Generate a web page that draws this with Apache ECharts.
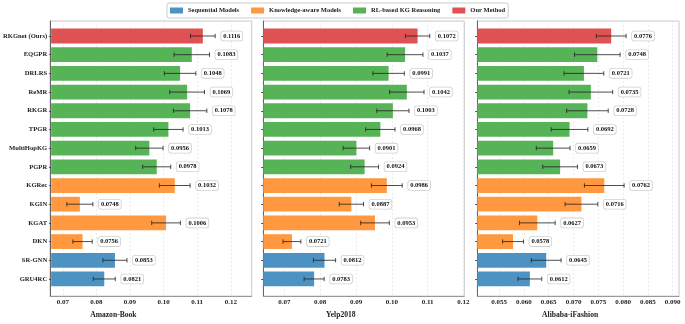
<!DOCTYPE html>
<html>
<head>
<meta charset="utf-8">
<script src="https://cdn.jsdelivr.net/npm/echarts@6/dist/echarts.min.js"></script>
<style>
  html, body { margin: 0; padding: 0; background: #fff; }
  #main { width: 685px; height: 324px; }
</style>
</head>
<body>
<div id="main"></div>
<script>
// categories top -> bottom
const methods = ['RKGnet (Ours)', 'EQGPR', 'DRLRS', 'ReMR', 'RKGR', 'TPGR', 'MultiHopKG', 'PGPR',
  'KGRec', 'KGIN', 'KGAT', 'DKN', 'SR-GNN', 'GRU4RC'];
const methodGroup = ['Our Method', 'RL-based KG Reasoning', 'RL-based KG Reasoning', 'RL-based KG Reasoning',
  'RL-based KG Reasoning', 'RL-based KG Reasoning', 'RL-based KG Reasoning', 'RL-based KG Reasoning',
  'Knowledge-aware Models', 'Knowledge-aware Models', 'Knowledge-aware Models', 'Knowledge-aware Models',
  'Sequential Models', 'Sequential Models'];
const groups = ['Sequential Models', 'Knowledge-aware Models', 'RL-based KG Reasoning', 'Our Method'];
const groupColors = ['#4c92c3', '#ff983e', '#56b356', '#de5253'];

const amazon = [0.1116, 0.1083, 0.1048, 0.1069, 0.1078, 0.1013, 0.0956, 0.0978, 0.1032, 0.0748, 0.1006, 0.0756, 0.0853, 0.0821];
const amazonErr = [0.0037, 0.0053, 0.0047, 0.0052, 0.0050, 0.0044, 0.0041, 0.0042, 0.0046, 0.0039, 0.0043, 0.0029, 0.0036, 0.0033];
const yelp = [0.1072, 0.1037, 0.0991, 0.1042, 0.1003, 0.0968, 0.0901, 0.0924, 0.0986, 0.0887, 0.0953, 0.0721, 0.0812, 0.0783];
const yelpErr = [0.0034, 0.0050, 0.0044, 0.0048, 0.0045, 0.0041, 0.0037, 0.0039, 0.0043, 0.0034, 0.0040, 0.0025, 0.0031, 0.0028];
const alibaba = [0.0776, 0.0748, 0.0721, 0.0735, 0.0728, 0.0692, 0.0659, 0.0673, 0.0762, 0.0716, 0.0627, 0.0578, 0.0645, 0.0612];
const alibabaErr = [0.0030, 0.0046, 0.0040, 0.0044, 0.0042, 0.0037, 0.0034, 0.0035, 0.0040, 0.0033, 0.0036, 0.0021, 0.0030, 0.0024];

const amazonTicks = [0.07, 0.08, 0.09, 0.10, 0.11, 0.12];
const yelpTicks = [0.07, 0.08, 0.09, 0.10, 0.11, 0.12];
const alibabaTicks = [0.055, 0.060, 0.065, 0.070, 0.075, 0.080, 0.085, 0.090];

const FONT = '"Liberation Serif", "DejaVu Serif", serif';

// panel layout (px)
const panels = [
  { name: 'Amazon-Book', vals: amazon, errs: amazonErr, ticks: amazonTicks, dec: 2, min: 0.0662, max: 0.12623, left: 50, width: 201.7, namePad: 75 },
  { name: 'Yelp2018', vals: yelp, errs: yelpErr, ticks: yelpTicks, dec: 2, min: 0.0641, max: 0.12025, left: 263.3, width: 201, namePad: 46 },
  { name: 'Alibaba-iFashion', vals: alibaba, errs: alibabaErr, ticks: alibabaTicks, dec: 3, min: 0.0506, max: 0.09127, left: 477.3, width: 201.7, namePad: 16 }
];

const grid = [], xAxis = [], yAxis = [], series = [];

panels.forEach((p, k) => {
  // data grid
  grid.push({ left: p.left, width: p.width, top: 26.65, height: 261.65 });
  xAxis.push({ type: 'value', gridIndex: k, min: p.min, max: p.max, show: false });
  yAxis.push({
    type: 'category', gridIndex: k, data: methods, inverse: true,
    axisLine: { show: false },
    axisTick: { show: true, length: 2, alignWithLabel: true, lineStyle: { color: '#444' } },
    axisLabel: {
      show: k === 0, margin: 4, fontFamily: FONT, fontWeight: 'bold', fontSize: 6.6, color: '#222'
    },
    splitLine: { show: false }
  });
});

panels.forEach((p, k) => {
  // frame grid with gridlines, ticks and name
  grid.push({ left: p.left, width: p.width, top: 21, height: 278, show: true, borderColor: '#c8c8c8', borderWidth: 1 });
  xAxis.push({
    type: 'value', gridIndex: 3 + k, min: p.min, max: p.max,
    name: p.name, nameLocation: 'middle', nameGap: 14,
    nameTextStyle: { fontFamily: FONT, fontWeight: 'bold', fontSize: 7.6, color: '#222', padding: [0, p.namePad, 0, 0] },
    axisLine: { show: true, onZero: false, lineStyle: { color: '#999' } },
    axisTick: { show: false, customValues: p.ticks },
    axisLabel: {
      customValues: p.ticks, margin: 3, fontFamily: FONT, fontWeight: 'bold', fontSize: 7, color: '#222',
      formatter: v => v.toFixed(p.dec)
    },
    splitLine: { show: true, lineStyle: { color: '#e4e4e4', width: 0.7, type: [2, 2] } }
  });
  yAxis.push({
    type: 'value', gridIndex: 3 + k, min: 0, max: 1,
    axisLine: { show: true, onZero: false, lineStyle: { color: '#666' } },
    axisTick: { show: false }, axisLabel: { show: false }, splitLine: { show: false }
  });
});

panels.forEach((p, k) => {
  groups.forEach((g, gi) => {
    series.push({
      name: g, type: 'bar', xAxisIndex: k, yAxisIndex: k, stack: 'p' + k,
      barCategoryGap: '21%',
      itemStyle: { color: groupColors[gi] },
      data: p.vals.map((v, i) => methodGroup[i] === g ? v : '-')
    });
  });
  series.push({
    type: 'custom', xAxisIndex: k, yAxisIndex: k, z: 5,
    encode: { x: 0, y: 1 },
    data: p.vals.map((v, i) => [v, i, p.errs[i]]),
    renderItem: function (params, api) {
      const v = api.value(0), i = api.value(1), e = api.value(2);
      const lo = api.coord([v - e, i]);
      const hi = api.coord([v + e, i]);
      const y = lo[1];
      const cap = 2.2;
      const ls = { stroke: '#222', lineWidth: 1, opacity: 0.8 };
      return {
        type: 'group', children: [
          { type: 'line', shape: { x1: lo[0], y1: y, x2: hi[0], y2: y }, style: ls },
          { type: 'line', shape: { x1: lo[0], y1: y - cap, x2: lo[0], y2: y + cap }, style: ls },
          { type: 'line', shape: { x1: hi[0], y1: y - cap, x2: hi[0], y2: y + cap }, style: ls },
          {
            type: 'text', x: hi[0] + 6, y: y,
            style: {
              text: v.toFixed(4), fill: '#111', align: 'left', verticalAlign: 'middle',
              font: 'bold 6.5px ' + FONT,
              backgroundColor: '#fff', borderColor: '#d0d0d0', borderWidth: 0.8, borderRadius: 2,
              padding: [1, 2, 1, 2]
            }
          }
        ]
      };
    }
  });
});

const chart = echarts.init(document.getElementById('main'));
chart.setOption({
  animation: false,
  legend: {
    data: groups, top: 3, left: 167,
    icon: 'rect', itemWidth: 13, itemHeight: 6, itemGap: 12,
    padding: [4, 3, 4, 3],
    borderColor: '#cccccc', borderWidth: 1, borderRadius: 2,
    textStyle: { fontFamily: FONT, fontWeight: 'bold', fontSize: 6.5, color: '#222' }
  },
  grid: grid,
  xAxis: xAxis,
  yAxis: yAxis,
  series: series
});
</script>
</body>
</html>
